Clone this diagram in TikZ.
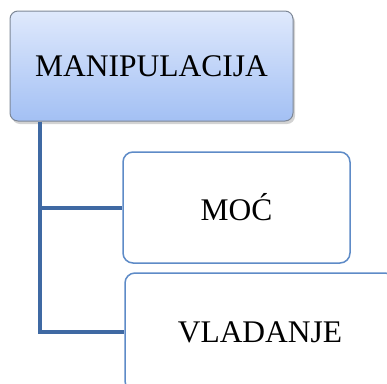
\documentclass[tikz,border=0pt]{standalone}
\usepackage{fontspec}
\setmainfont{Liberation Serif}
\usetikzlibrary{shadows}
\definecolor{boxtop}{HTML}{DFE9FC}
\definecolor{boxbottom}{HTML}{A3C0F4}
\definecolor{boxframe}{HTML}{7D8796}
\definecolor{childframe}{HTML}{5E8BC7}
\definecolor{trunkblue}{HTML}{3F69A3}
\begin{document}
\begin{tikzpicture}[x=1pt,y=-1pt,%
% common options for the head box:
head/.style = {draw=boxframe, line width=1pt, rounded corners=8pt,
            top color=boxtop, bottom color=boxbottom,
            drop shadow={shadow xshift=2pt, shadow yshift=-3pt, opacity=0.35},
            minimum width=283pt, minimum height=110pt, inner sep=0,
            font=\fontsize{31.5}{36}\selectfont},
% common options for the child boxes:
child/.style = {draw=childframe, line width=1.5pt, rounded corners=10pt,
            fill=white, inner sep=0,
            font=\fontsize{31.5}{36}\selectfont},
% the connector lines:
link/.style = {draw=trunkblue, line width=4pt}]
\useasboundingbox (0,0) rectangle (387,383);
\node[head] (M0) at (151.5,66) {MANIPULACIJA};
\node[child,minimum width=227pt,minimum height=111pt] (C1) at (236.5,207.5) {MOĆ};
\node[child,minimum width=270pt,minimum height=118pt] (C2) at (260,332) {VLADANJE};
\coordinate (T0) at ([xshift=30pt]M0.south west);
\draw[link] (T0) |- (C1.west);
\draw[link] (T0) |- (C2.west);
\end{tikzpicture}
\end{document}
